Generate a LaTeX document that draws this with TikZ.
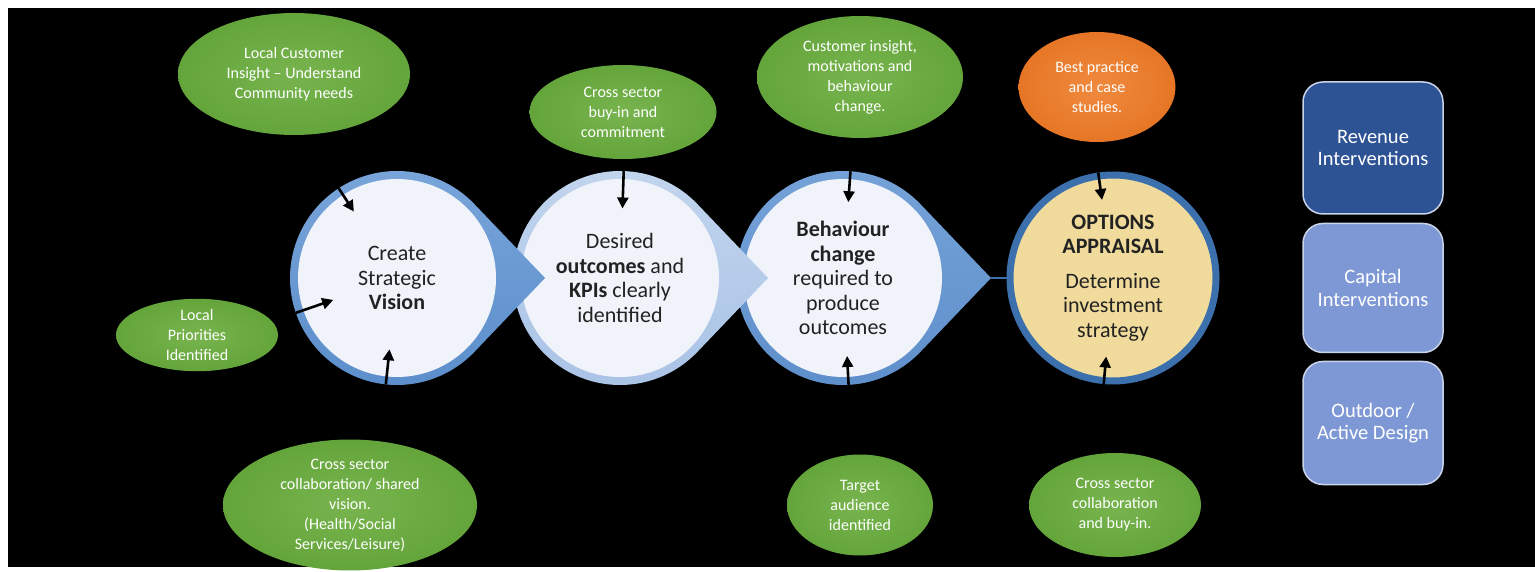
\documentclass[tikz,border=0pt]{standalone}
\usepackage{fontspec}
\setmainfont{Carlito}
\usetikzlibrary{arrows.meta,calc,shapes.geometric}

\definecolor{stagefill}{HTML}{F0F3FA}
\definecolor{stagetext}{HTML}{222222}
\definecolor{ringA}{HTML}{5B8ECB}
\definecolor{ringAhi}{HTML}{79A5DA}
\definecolor{ringB}{HTML}{A9C3E6}
\definecolor{ringBhi}{HTML}{C2D5EE}
\definecolor{ringC}{HTML}{5F8FCB}
\definecolor{ringChi}{HTML}{75A2D8}
\definecolor{optfill}{HTML}{F0DB9C}
\definecolor{optring}{HTML}{3C70AC}
\definecolor{greenhi}{HTML}{78B44E}
\definecolor{greenlo}{HTML}{64A53B}
\definecolor{orangehi}{HTML}{F08A3E}
\definecolor{orangelo}{HTML}{E67626}
\definecolor{revfill}{HTML}{2E5395}
\definecolor{capfill}{HTML}{7E98D5}
\definecolor{boxedge}{HTML}{C9D4EA}

\tikzset{
  idea/.style={ellipse, inner sep=0pt, text=white, align=center,
    font=\fontsize{16}{20}\selectfont,
    shading=radial, inner color=greenhi, outer color=greenlo},
  stage/.style={circle, inner sep=0pt, minimum size=198pt, outer sep=8pt,
    fill=stagefill, text=stagetext, align=center,
    font=\fontsize{22}{24.5}\selectfont},
  intbox/.style={rectangle, rounded corners=20pt, draw=boxedge, line width=1.5pt,
    minimum width=140pt, text=white, align=center,
    font=\fontsize{20.5}{22.5}\selectfont},
  feed/.style={line width=2.6pt, -{Triangle[length=11pt,width=11pt]}},
}

\begin{document}
\begin{tikzpicture}[x=1pt, y=1pt]
        \useasboundingbox (0,0) rectangle (1535,571);
        \fill [white] (0,0) rectangle (1535,571);                        %
        \fill [black] (8,4) rectangle (1535,563);                        %

        % options appraisal
        \node [circle, inner sep=0pt, minimum size=206pt, fill=optfill, draw=optring,
               line width=7pt, text=stagetext, align=center,
               font=\fontsize{22}{24.5}\selectfont] (opt) at (1113,293)
              {\textbf{OPTIONS}\\\textbf{APPRAISAL}\\[10pt]Determine\\investment\\strategy};

        % stages, drawn right to left so each point lies on the next one
        \shade [top color=ringChi, bottom color=ringC] (843,293) ++(43.7:107)
              arc [start angle=43.7, end angle=316.3, radius=107] -- (991,293) -- cycle;
        \node [stage] (beh) at (843,293)
              {\textbf{Behaviour}\\\textbf{change}\\required to\\produce\\outcomes};
        \shade [top color=ringBhi, bottom color=ringB] (620,293) ++(43.7:107)
              arc [start angle=43.7, end angle=316.3, radius=107] -- (768,293) -- cycle;
        \node [stage] (kpi) at (620,293)
              {Desired\\\textbf{outcomes} and\\\textbf{KPIs} clearly\\identified};
        \shade [top color=ringAhi, bottom color=ringA] (397,293) ++(43.7:107)
              arc [start angle=43.7, end angle=316.3, radius=107] -- (545,293) -- cycle;
        \node [stage] (vis) at (397,293)
              {Create\\Strategic\\\textbf{Vision}};

        \coordinate (drop3) at (991,293);
        \draw [optring, line width=1.5pt] (drop3) -- (opt.west);         %

        % inputs
        \node [idea, minimum width=232pt, minimum height=122pt] (cust) at (294,497)
              {Local Customer\\Insight -- Understand\\Community needs};
        \node [idea, minimum width=162pt, minimum height=71pt] (prio) at (197,236)
              {Local\\Priorities\\Identified};
        \node [idea, minimum width=254pt, minimum height=121pt] (share) at (350,66)
              {Cross sector\\collaboration/ shared\\vision.\\(Health/Social\\Services/Leisure)};
        \node [idea, minimum width=187pt, minimum height=94pt] (buyin) at (623,459)
              {Cross sector\\buy-in and\\commitment};
        \node [idea, minimum width=206pt, minimum height=122pt] (motiv) at (860,494)
              {Customer insight,\\motivations and\\behaviour\\change.};
        \node [idea, minimum width=146pt, minimum height=101pt] (aud) at (860,66)
              {Target\\audience\\identified};
        \node [idea, minimum width=172pt, minimum height=104pt] (collab) at (1115,66)
              {Cross sector\\collaboration\\and buy-in.};
        \node [idea, inner color=orangehi, outer color=orangelo,
               minimum width=157pt, minimum height=110pt] (best) at (1097,484)
              {Best practice\\and case\\studies.};

        % arrows into the stages
        \draw [feed] (vis.123) -- ($(vis.123)!0.26!(vis.center)$);       %
        \draw [feed] (vis.199) -- ($(vis.199)!0.37!(vis.center)$);       %
        \draw [feed] (vis.264) -- ($(vis.264)!0.33!(vis.center)$);       %
        \draw [feed] (kpi.88)  -- ($(kpi.88)!0.35!(kpi.center)$);        %
        \draw [feed] (beh.86)  -- ($(beh.86)!0.29!(beh.center)$);        %
        \draw [feed] (beh.273) -- ($(beh.273)!0.27!(beh.center)$);       %
        \draw [feed] (opt.98)  -- ($(opt.98)!0.26!(opt.center)$);        %
        \draw [feed] (opt.265) -- ($(opt.265)!0.26!(opt.center)$);       %

        % intervention types
        \node [intbox, fill=revfill, minimum height=132pt] (rev) at (1373,423)
              {Revenue\\Interventions};
        \node [intbox, fill=capfill, minimum height=129pt] (cap) at (1373,283)
              {Capital\\Interventions};
        \node [intbox, fill=capfill, minimum height=123pt] (out) at (1373,148)
              {Outdoor /\\Active Design};
\end{tikzpicture}
\end{document}
